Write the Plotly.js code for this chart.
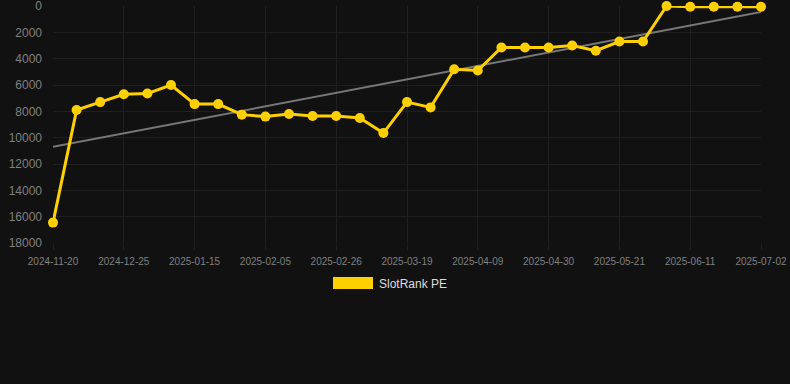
<!DOCTYPE html>
<html>
<head>
<meta charset="utf-8">
<script src="https://cdn.plot.ly/plotly-3.0.1.min.js"></script>
<style>
  html, body { margin: 0; padding: 0; background: #111111; }
  #chart { width: 790px; height: 384px; }
</style>
</head>
<body>
<div id="chart"></div>
<script>
const dates = [
  "2024-11-20", "2024-12-04", "2024-12-18", "2024-12-25", "2025-01-01", "2025-01-08",
  "2025-01-15", "2025-01-22", "2025-01-29", "2025-02-05", "2025-02-12", "2025-02-19",
  "2025-02-26", "2025-03-05", "2025-03-12", "2025-03-19", "2025-03-26", "2025-04-02",
  "2025-04-09", "2025-04-16", "2025-04-23", "2025-04-30", "2025-05-07", "2025-05-14",
  "2025-05-21", "2025-05-28", "2025-06-04", "2025-06-11", "2025-06-18", "2025-06-25",
  "2025-07-02"
];
const rankValues = [
  16450, 7900, 7300, 6700, 6650, 6000, 7450, 7450, 8250, 8400, 8200,
  8350, 8350, 8500, 9650, 7300, 7700, 4800, 4900, 3150, 3150,
  3150, 3000, 3400, 2700, 2700, 1, 60, 60, 60, 60
];
const trendX = ["2024-11-20", "2025-07-02"];
const trendValues = [10700, 450];
const tickLabels = [
  "2024-11-20", "2024-12-25", "2025-01-15", "2025-02-05", "2025-02-26", "2025-03-19",
  "2025-04-09", "2025-04-30", "2025-05-21", "2025-06-11", "2025-07-02"
];
const yTicks = [0, 2000, 4000, 6000, 8000, 10000, 12000, 14000, 16000, 18000];
const seriesName = "SlotRank PE";

const gold = "#FFD000";
const font = "Liberation Sans, Arial, sans-serif";

const traces = [
  {
    x: trendX, y: trendValues, type: "scatter", mode: "lines",
    line: { color: "#777777", width: 2 }, hoverinfo: "skip", showlegend: false
  },
  {
    x: dates, y: rankValues, type: "scatter", mode: "lines+markers", name: seriesName,
    line: { color: gold, width: 3 },
    marker: { color: gold, size: 10 },
    cliponaxis: false, showlegend: false
  }
];

const plotL = 53, plotR = 761, plotT = 6, plotB = 243;
const W = plotR - plotL, H = plotB - plotT;
const px = v => (v - plotL) / W;
const py = v => (plotB - v) / H;

const layout = {
  width: 790, height: 384,
  paper_bgcolor: "#111111", plot_bgcolor: "#111111",
  margin: { l: plotL, r: 790 - plotR, t: plotT, b: 384 - plotB },
  font: { family: font, color: "#888888" },
  showlegend: false,
  xaxis: {
    type: "category", categoryorder: "array", categoryarray: dates,
    range: [0, dates.length - 1],
    tickmode: "array", tickvals: tickLabels, ticktext: tickLabels,
    tickfont: { size: 10, color: "#808080", family: font },
    showgrid: true, gridcolor: "#1f1f1f", gridwidth: 1,
    ticks: "outside", ticklen: 6, tickcolor: "#1f1f1f",
    ticklabelstandoff: 3, ticklabeloverflow: "allow",
    zeroline: false, showline: false, fixedrange: true
  },
  yaxis: {
    range: [18000, 0],
    tickmode: "array", tickvals: yTicks, ticktext: yTicks.map(String),
    tickfont: { size: 12, color: "#808080", family: font },
    showgrid: true, gridcolor: "#1f1f1f", gridwidth: 1,
    ticks: "", ticklabelstandoff: 10, ticklabeloverflow: "allow",
    zeroline: false, showline: false, fixedrange: true
  },
  shapes: [
    {
      type: "rect", xref: "paper", yref: "paper",
      x0: px(333), x1: px(373), y0: py(277), y1: py(289),
      fillcolor: gold, line: { width: 0 }
    }
  ],
  annotations: [
    {
      xref: "paper", yref: "paper", x: px(377), y: py(284),
      xanchor: "left", yanchor: "middle", showarrow: false,
      text: seriesName, font: { size: 12, color: "#dddddd", family: font }
    }
  ]
};

Plotly.newPlot("chart", traces, layout, { displayModeBar: false, staticPlot: true });
</script>
</body>
</html>
